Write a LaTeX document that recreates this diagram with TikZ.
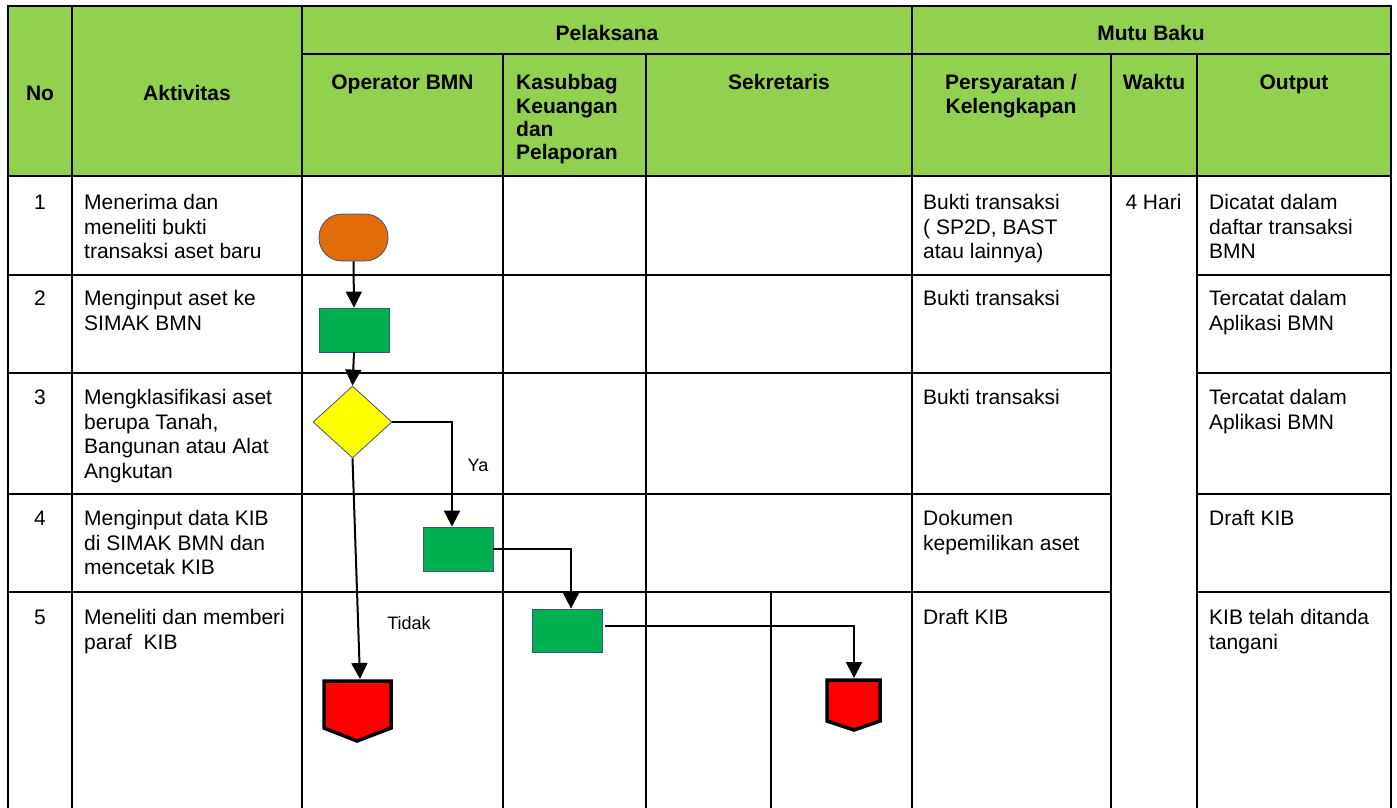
\documentclass[tikz,border=0pt]{standalone}
\usepackage{fontspec}
\setmainfont{Liberation Sans}
\usetikzlibrary{arrows.meta,shapes.geometric}
\definecolor{hdrgreen}{HTML}{92D050}
\definecolor{boxgreen}{HTML}{00B050}
\definecolor{termorange}{HTML}{E36C0A}
\definecolor{diayellow}{HTML}{FFFF00}
\definecolor{endred}{HTML}{FF0000}
\definecolor{thinedge}{HTML}{3B5878}
\tikzset{
  gridline/.style={line width=2.6pt, line cap=rect},
  hdr/.style={font=\bfseries\fontsize{21}{23.3}\selectfont, inner sep=0pt},
  bodytext/.style={font=\fontsize{21}{24.5}\selectfont, align=left, anchor=north west, inner sep=0pt},
  numtext/.style={font=\fontsize{21}{24.5}\selectfont, inner sep=0pt},
  small/.style={font=\fontsize{18}{20}\selectfont, inner sep=0pt},
  flow/.style={line width=2pt, -{Triangle[width=16pt,length=16pt]}},
  procbox/.style={draw=thinedge, line width=0.8pt, fill=boxgreen, minimum width=70pt, minimum height=44pt, inner sep=0pt},
  termbox/.style={draw=thinedge, line width=0.8pt, fill=termorange, minimum width=69pt, minimum height=47pt, rounded corners=23pt, inner sep=0pt},
  decide/.style={draw=thinedge, line width=0.8pt, fill=diayellow, diamond, minimum width=79pt, minimum height=72pt, inner sep=0pt},
  endshape/.style={draw=black, line width=3.5pt, fill=endred, line join=miter}
}
\begin{document}
\begin{tikzpicture}[x=1pt,y=-1pt]
\useasboundingbox (0,0) rectangle (1397,807);
% header background
\fill[hdrgreen] (8,6) rectangle (1391,176);
% grid
\draw[gridline] (8,6) -- (1391,6);
\draw[gridline] (302,54) -- (1391,54);
\draw[gridline] (8,176) -- (1391,176);
\foreach \y in {275,373,494,592}{
  \draw[gridline] (8,\y) -- (1111,\y);
  \draw[gridline] (1197,\y) -- (1391,\y);
}
\foreach \x in {8,72,302,912,1391}{
  \draw[gridline] (\x,6) -- (\x,807);
}
\foreach \x in {503,646,1111,1197}{
  \draw[gridline] (\x,54) -- (\x,807);
}
\draw[gridline] (771,592) -- (771,807);
% header text
\node[hdr] (hno) at (40,93) {No};
\node[hdr] (hakt) at (187,93) {Aktivitas};
\node[hdr] (hpel) at (607,33) {Pelaksana};
\node[hdr] (hmutu) at (1151,33) {Mutu Baku};
\node[hdr, anchor=north] (hop) at (402.5,74.5) {Operator BMN};
\node[hdr, anchor=north west, align=left] (hkas) at (516,74.5) {Kasubbag\\Keuangan\\dan\\Pelaporan};
\node[hdr, anchor=north] (hsek) at (779,74.5) {Sekretaris};
\node[hdr, anchor=north, align=center] (hper) at (1011,74.5) {Persyaratan /\\Kelengkapan};
\node[hdr, anchor=north] (hwak) at (1154,74.5) {Waktu};
\node[hdr, anchor=north] (hout) at (1294,74.5) {Output};
% row 1
\node[numtext] (n1) at (40,202) {1};
\node[bodytext] (a1) at (84,194.5) {Menerima dan\\meneliti bukti\\transaksi aset baru};
\node[bodytext] (p1) at (923,194.5) {Bukti transaksi\\( SP2D, BAST\\atau lainnya)};
\node[numtext] (w1) at (1153.5,202) {4 Hari};
\node[bodytext] (o1) at (1209,194.5) {Dicatat dalam\\daftar transaksi\\BMN};
% row 2
\node[numtext] (n2) at (40,298) {2};
\node[bodytext] (a2) at (84,290.5) {Menginput aset ke\\SIMAK BMN};
\node[bodytext] (p2) at (923,290.5) {Bukti transaksi};
\node[bodytext] (o2) at (1209,290.5) {Tercatat dalam\\Aplikasi BMN};
% row 3
\node[numtext] (n3) at (40,397) {3};
\node[bodytext] (a3) at (84,389.5) {Mengklasifikasi aset\\berupa Tanah,\\Bangunan atau Alat\\Angkutan};
\node[bodytext] (p3) at (923,389.5) {Bukti transaksi};
\node[bodytext] (o3) at (1209,389.5) {Tercatat dalam\\Aplikasi BMN};
% row 4
\node[numtext] (n4) at (40,518) {4};
\node[bodytext] (a4) at (84,510.5) {Menginput data KIB\\di SIMAK BMN dan\\mencetak KIB};
\node[bodytext] (p4) at (923,510.5) {Dokumen\\kepemilikan aset};
\node[bodytext] (o4) at (1209,510.5) {Draft KIB};
% row 5
\node[numtext] (n5) at (40,617) {5};
\node[bodytext] (a5) at (84,609.5) {Meneliti dan memberi\\paraf\ \ KIB};
\node[bodytext] (p5) at (923,609.5) {Draft KIB};
\node[bodytext] (o5) at (1209,609.5) {KIB telah ditanda\\tangani};
% flow shapes
\node[termbox] (start) at (353.5,237.5) {};
\node[procbox] (r1) at (354,330) {};
\node[decide] (dia) at (352.5,422) {};
\node[procbox] (r2) at (458,549) {};
\node[procbox, minimum height=43pt] (r3) at (567,630.5) {};
% end shapes
\draw[endshape] (324,681) -- (391,681) -- (391,728) -- (357,741) -- (324,728) -- cycle;
\coordinate (end1) at (360,679);
\draw[endshape] (827,680) -- (880,680) -- (880,721) -- (854,730) -- (827,721) -- cycle;
\coordinate (end2) at (854,678);
% connectors
\draw[flow] (start.south) -- (r1.north);
\draw[flow] (r1.south) -- (dia.north);
\draw[flow] (dia.east) -| ([xshift=-6pt]r2.north);
\draw[flow] (dia.south) -- (end1);
\draw[flow] (r2.east) -| ([xshift=4pt]r3.north);
\draw[flow] ([xshift=3pt,yshift=4.5pt]r3.east) -| (end2);
% labels
\node[small] (ya) at (478,465) {Ya};
\node[small] (tidak) at (409,623) {Tidak};
\end{tikzpicture}
\end{document}
